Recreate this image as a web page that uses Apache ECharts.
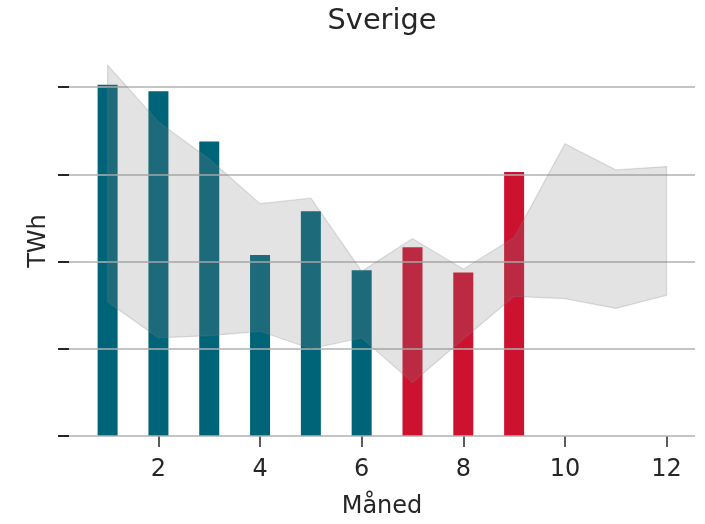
<!DOCTYPE html>
<html>
<head>
<meta charset="utf-8">
<title>Sverige</title>
<script src="https://cdn.jsdelivr.net/npm/echarts@6/dist/echarts.min.js"></script>
<style>
  html, body { margin: 0; padding: 0; background: #ffffff; }
  #chart { width: 705px; height: 524px; }
</style>
</head>
<body>
<div id="chart"></div>
<script>
// Monthly values, TWh
const barMonths = [1, 2, 3, 4, 5, 6, 7, 8, 9];
const monthlyTWh = [16.1, 15.8, 13.5, 8.3, 10.3, 7.6, 8.65, 7.5, 12.1];
// months shown in the highlight colour
const highlightMonths = [7, 8, 9];

// Historical min/max range per month
const rangeMonths = [1, 2, 3, 4, 5, 6, 7, 8, 9, 10, 11, 12];
const rangeLow  = [6.15, 4.5, 4.6, 4.8, 4.0, 4.5, 2.45, 4.45, 6.4, 6.3, 5.85, 6.45];
const rangeHigh = [17.0, 14.4, 12.7, 10.65, 10.9, 7.55, 9.05, 7.65, 9.1, 13.4, 12.2, 12.35];

// Axis ticks
const xTickValues = [2, 4, 6, 8, 10, 12];
const yTickValues = [0, 4, 8, 12, 16];

const TEAL = '#006479';
const RED = '#cd1230';
const TEXT = '#262626';
const FONT = 'DejaVu Sans';

const barData = barMonths.map((m, i) => ({
  value: [m, monthlyTWh[i]],
  itemStyle: { color: highlightMonths.includes(m) ? RED : TEAL }
}));
const rangeRows = rangeMonths.map((m, i) => [m, rangeLow[i], rangeHigh[i]]);

// Draws the min/max range as one filled polygon (upper edge forward, lower edge back)
function renderRange(params, api) {
  if (params.dataIndex !== 0) return null;
  const upper = rangeRows.map(r => api.coord([r[0], r[2]]));
  const lower = rangeRows.map(r => api.coord([r[0], r[1]])).reverse();
  return {
    type: 'polygon',
    shape: { points: upper.concat(lower) },
    style: {
      fill: 'rgba(128,128,128,0.22)',
      stroke: 'rgba(128,128,128,0.25)',
      lineWidth: 1.2
    }
  };
}

const chart = echarts.init(document.getElementById('chart'), null, { renderer: 'canvas' });

chart.setOption({
  animation: false,
  backgroundColor: '#ffffff',
  textStyle: { fontFamily: FONT, color: TEXT },
  title: {
    text: 'Sverige',
    left: 382,
    textAlign: 'center',
    top: 7,
    padding: 0,
    textStyle: { fontFamily: FONT, fontSize: 28.8, fontWeight: 'normal', color: TEXT }
  },
  grid: { left: 69, right: 10, top: 46, bottom: 83, containLabel: false },
  xAxis: {
    type: 'value',
    min: 0.24,
    max: 12.56,
    axisLine: { show: false },
    axisTick: {
      show: true, length: 11, customValues: xTickValues,
      lineStyle: { color: TEXT, width: 1.5 }
    },
    axisLabel: {
      customValues: xTickValues,
      margin: 22,
      fontFamily: FONT, fontSize: 24, color: TEXT
    },
    splitLine: { show: false },
    name: 'Måned',
    nameLocation: 'middle',
    nameGap: 59,
    nameTextStyle: { fontFamily: FONT, fontSize: 24, color: TEXT }
  },
  yAxis: {
    type: 'value',
    min: 0,
    max: 17.88,
    z: 3,
    axisLine: { show: false },
    axisTick: {
      show: true, length: 11, customValues: yTickValues,
      lineStyle: { color: TEXT, width: 2 }
    },
    axisLabel: { show: false, customValues: yTickValues },
    splitLine: {
      show: true,
      lineStyle: { color: '#b0b0b0', width: 1.5 }
    },
    name: 'TWh',
    nameLocation: 'middle',
    nameRotate: 90,
    nameGap: 18,
    nameTextStyle: { fontFamily: FONT, fontSize: 24, color: TEXT }
  },
  series: [
    {
      type: 'bar',
      data: barData,
      barWidth: 20,
      z: 1,
      itemStyle: { borderWidth: 0 }
    },
    {
      type: 'custom',
      name: 'spenn',
      data: rangeRows,
      encode: { x: 0, y: [1, 2] },
      renderItem: renderRange,
      z: 4,
      silent: true
    }
  ]
});
</script>
</body>
</html>
